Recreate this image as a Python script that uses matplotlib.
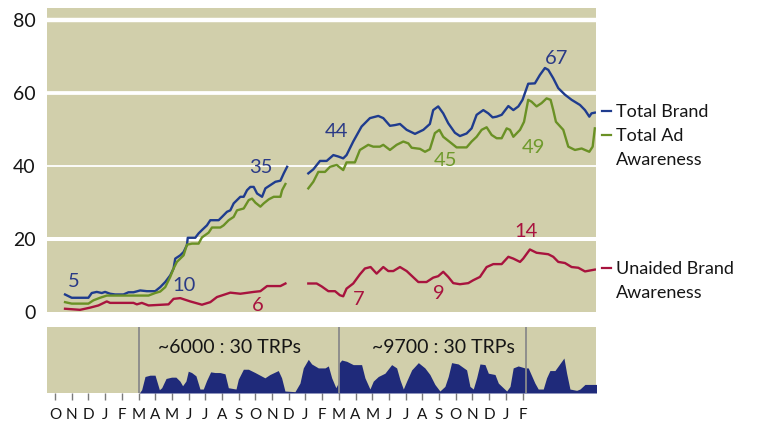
import matplotlib
matplotlib.use("Agg")
import matplotlib.pyplot as plt
import matplotlib.transforms as mtransforms

plt.rcParams['font.family'] = ['Lato', 'DejaVu Sans']

# ---------------- data ----------------
months = ["O", "N", "D", "J", "F", "M", "A", "M", "J", "J", "A", "S", "O", "N",
          "D", "J", "F", "M", "A", "M", "J", "J", "A", "S", "O", "N", "D", "J", "F"]

brand_x1 = [0.6, 1.0, 2.0, 2.2, 2.5, 2.8, 3.0, 3.3, 3.6, 4.1, 4.4, 4.7, 5.1, 5.5, 6.0, 6.3,
            6.6, 6.9, 7.1, 7.2, 7.5, 7.7, 7.9, 7.95, 8.4, 8.6, 8.8, 9.1, 9.3, 9.8, 10.0, 10.3,
            10.5, 10.7, 10.9, 11.1, 11.3, 11.5, 11.7, 11.9, 12.1, 12.4, 12.6, 12.9, 13.2,
            13.5, 13.7, 13.9]
brand_y1 = [4.9, 4.0, 4.0, 5.3, 5.6, 5.3, 5.6, 5.1, 4.9, 4.9, 5.5, 5.5, 6.0, 5.8, 5.8, 6.9,
            8.3, 10.1, 12.0, 14.7, 15.6, 16.5, 18.4, 20.4, 20.4, 21.6, 22.5, 23.8, 25.2, 25.2,
            26.1, 27.5, 27.9, 29.8, 30.7, 31.6, 31.6, 33.4, 34.3, 34.3, 32.5, 31.6, 33.9,
            34.8, 35.7, 36.0, 38.0, 39.8]
brand_x2 = [15.17, 15.47, 15.87, 16.27, 16.67, 16.97, 17.26, 17.46, 17.86, 18.36, 18.86,
            19.36, 19.66, 20.06, 20.36, 20.66, 21.06, 21.56, 22.06, 22.45, 22.65, 22.95,
            23.25, 23.55, 23.95, 24.25, 24.65, 24.95, 25.25, 25.65, 25.95, 26.21, 26.45,
            26.75, 27.15, 27.45, 27.75, 28.0, 28.34, 28.74, 29.04, 29.34, 29.54, 29.84,
            30.14, 30.54, 30.94, 31.44, 31.74, 32.0, 32.13, 32.33]
brand_y2 = [38.0, 39.1, 41.4, 41.4, 43.0, 42.6, 42.1, 43.0, 46.7, 50.8, 53.1, 53.7, 53.1,
            51.0, 51.2, 51.5, 49.9, 48.8, 49.9, 51.5, 55.3, 56.3, 54.4, 51.7, 49.1, 48.2,
            48.9, 50.3, 54.0, 55.3, 54.4, 53.3, 53.5, 54.0, 56.4, 55.3, 56.3, 58.1, 62.5,
            62.6, 64.9, 66.8, 66.3, 64.0, 61.3, 59.5, 58.1, 56.7, 55.3, 53.5, 54.4, 54.6]

ad_x1 = [0.6, 1.0, 2.0, 2.3, 2.7, 3.1, 3.9, 5.6, 6.0, 6.3, 6.6, 6.9, 7.1, 7.3, 7.7, 7.9,
         8.2, 8.6, 8.8, 9.2, 9.4, 9.9, 10.1, 10.4, 10.7, 10.9, 11.3, 11.6, 11.8, 12.0, 12.3,
         12.5, 12.8, 13.1, 13.5, 13.6, 13.8]
ad_y1 = [2.8, 2.4, 2.4, 3.3, 4.0, 4.6, 4.6, 4.6, 5.3, 5.7, 6.9, 9.7, 12.0, 13.8, 15.6, 18.5,
         18.8, 18.8, 20.5, 21.8, 23.2, 23.2, 23.8, 25.2, 26.1, 27.9, 28.4, 30.7, 31.1, 30.0,
         28.9, 29.8, 30.9, 31.6, 31.6, 33.4, 35.1]
ad_x2 = [15.17, 15.47, 15.77, 16.17, 16.47, 16.87, 17.26, 17.46, 17.96, 18.26, 18.76, 19.06,
         19.46, 19.66, 20.06, 20.46, 20.86, 21.16, 21.36, 21.86, 22.16, 22.45, 22.75, 23.02,
         23.25, 23.75, 24.05, 24.65, 24.95, 25.25, 25.55, 25.85, 26.15, 26.45, 26.75, 27.05,
         27.25, 27.45, 27.85, 28.09, 28.34, 28.54, 28.84, 29.14, 29.44, 29.68, 29.84, 30.0,
         30.44, 30.74, 31.14, 31.54, 31.74, 32.0, 32.2, 32.33]
ad_y2 = [33.9, 35.7, 38.4, 38.4, 39.8, 40.3, 38.9, 41.0, 41.0, 44.4, 45.8, 45.3, 45.3, 45.8,
         44.4, 45.8, 46.7, 46.2, 45.0, 44.7, 43.9, 44.6, 49.0, 49.9, 48.0, 46.2, 45.1, 45.1,
         46.7, 48.0, 49.9, 50.6, 48.5, 47.6, 47.6, 50.3, 49.9, 48.0, 49.9, 52.1, 58.1, 57.6,
         56.3, 57.2, 58.5, 58.1, 55.3, 52.1, 49.9, 45.3, 44.4, 44.8, 44.4, 43.9, 45.3, 50.3]

unaided_x1 = [0.6, 1.5, 2.1, 2.6, 3.1, 3.3, 4.7, 4.9, 5.2, 5.6, 6.8, 7.1, 7.5, 8.1, 8.8, 9.3,
              9.7, 10.5, 11.1, 11.9, 12.3, 12.7, 13.5, 13.8]
unaided_y1 = [1.0, 0.7, 1.3, 1.9, 3.0, 2.6, 2.6, 2.2, 2.6, 1.9, 2.2, 3.7, 3.9, 3.0, 2.1, 2.8,
              4.2, 5.4, 5.1, 5.6, 5.8, 7.2, 7.2, 7.9]
unaided_x2 = [15.17, 15.67, 15.97, 16.37, 16.77, 17.06, 17.26, 17.46, 17.86, 18.26, 18.56,
              18.9, 19.26, 19.66, 19.96, 20.26, 20.66, 21.06, 21.76, 22.25, 22.65, 22.95,
              23.25, 23.55, 23.85, 24.25, 24.75, 25.05, 25.45, 25.85, 26.25, 26.75, 27.15,
              27.45, 27.85, 28.04, 28.44, 28.84, 29.54, 29.84, 30.14, 30.54, 30.94, 31.34,
              31.74, 32.33]
unaided_y2 = [7.9, 7.9, 7.1, 5.8, 5.8, 4.7, 4.4, 6.5, 7.9, 10.4, 12.0, 12.4, 10.6, 12.4, 11.3,
              11.3, 12.4, 11.3, 8.3, 8.3, 9.5, 9.9, 11.1, 9.7, 8.0, 7.7, 8.0, 8.8, 9.7, 12.4,
              13.2, 13.2, 15.2, 14.7, 13.8, 14.7, 17.2, 16.3, 15.9, 15.2, 13.8, 13.5, 12.4,
              12.2, 11.2, 11.7]

trp_x = [5.05, 5.19, 5.39, 5.69, 5.99, 6.25, 6.39, 6.65, 6.98, 7.24, 7.48, 7.64, 7.84, 7.98,
         8.18, 8.44, 8.68, 8.88, 9.08, 9.32, 9.58, 9.88, 10.18, 10.38, 10.84, 10.98, 11.28,
         11.58, 11.98, 12.57, 12.87, 13.37, 13.57, 13.77, 14.37, 14.67, 14.87, 15.17, 15.37,
         15.77, 16.17, 16.37, 16.57, 16.82, 16.96, 17.0, 17.17, 17.47, 17.86, 18.36, 18.56,
         18.86, 19.06, 19.36, 19.76, 20.16, 20.46, 20.66, 20.86, 21.06, 21.36, 21.76, 22.15,
         22.45, 22.75, 23.05, 23.35, 23.55, 23.75, 24.15, 24.65, 24.85, 25.05, 25.25, 25.45,
         25.75, 25.95, 26.35, 26.55, 27.05, 27.25, 27.44, 27.74, 28.14, 28.34, 28.74, 28.94,
         29.24, 29.44, 29.64, 29.94, 30.14, 30.48, 30.64, 30.84, 31.24, 31.44, 31.74, 32.45]
trp_h = [0, 5, 25, 27, 27, 5, 8, 22, 24, 24, 18, 11, 18, 33, 31, 26, 6, 6, 19, 32, 31, 31, 29,
         8, 6, 21, 36, 36, 31, 23, 28, 34, 23, 3, 2, 15, 38, 51, 44, 38, 38, 41, 23, 8, 15, 45,
         50, 48, 43, 43, 23, 6, 18, 25, 30, 43, 38, 20, 6, 18, 35, 46, 38, 28, 13, 3, 10, 25,
         46, 44, 35, 10, 6, 23, 44, 43, 30, 28, 15, 3, 10, 38, 41, 38, 38, 15, 6, 6, 23, 34,
         34, 41, 53, 30, 6, 4, 6, 13, 13]

flight_dividers = [5.0, 17.0, 28.2]
flight_labels = ["~6000 : 30 TRPs", "~9700 : 30 TRPs"]
flight_label_x = [6.17, 18.98]

yticks = [0, 20, 40, 60, 80]

value_labels = ["5", "10", "35", "44", "67", "45", "49", "6", "7", "9", "14"]
value_label_x = [1.12, 7.7, 12.32, 16.83, 30.04, 23.37, 28.68, 12.14, 18.16, 23.01, 28.24]
value_label_y = [8.4, 7.3, 39.7, 49.4, 69.5, 41.5, 45.2, 2.0, 3.4, 5.1, 22.1]
value_label_series = ["brand", "brand", "brand", "brand", "brand", "ad", "ad",
                      "unaided", "unaided", "unaided", "unaided"]

legend_lines = [["Total Brand"], ["Total Ad", "Awareness"], ["Unaided Brand", "Awareness"]]
legend_series = ["brand", "ad", "unaided"]
legend_y = [55.1, 48.5, 12.2]

# ---------------- style ----------------
BG = "#d1cfab"
colors = {"brand": "#1f3c8e", "ad": "#6a9125", "unaided": "#a8133e"}
text_colors = {"brand": "#2a3a86", "ad": "#6f9a2c", "unaided": "#a8133e"}
TRP_COLOR = "#1f2a7a"
TXT = "#151515"

W, H = 760, 426
fig = plt.figure(figsize=(W / 100, H / 100), dpi=100)

def rect(l, t, r, b):
    return [l / W, 1 - b / H, (r - l) / W, (b - t) / H]

ax = fig.add_axes(rect(47, 8, 596, 312.4))
ax.set_facecolor(BG)
ax.set_xlim(-0.48, 32.4)
ax.set_ylim(0, 83.2)
for s in ax.spines.values():
    s.set_visible(False)

grid_widths = {20: 2.9, 40: 1.3, 60: 2.7, 80: 3.2}
for v, w in grid_widths.items():
    ax.axhline(v, color="white", lw=w, zorder=1)

ax.set_yticks(yticks)
ax.set_yticklabels([str(v) for v in yticks], fontsize=14, color=TXT)
ax.tick_params(axis="y", length=0, pad=8)
ax.set_xticks([])

lw = 1.7
for xs, ys, s in [(brand_x1, brand_y1, "brand"), (brand_x2, brand_y2, "brand"),
                  (ad_x1, ad_y1, "ad"), (ad_x2, ad_y2, "ad"),
                  (unaided_x1, unaided_y1, "unaided"), (unaided_x2, unaided_y2, "unaided")]:
    ax.plot(xs, ys, color=colors[s], lw=lw, zorder=3, solid_joinstyle="round")

for t, x, y, s in zip(value_labels, value_label_x, value_label_y, value_label_series):
    ax.text(x, y, t, color=text_colors[s], fontsize=14.5, ha="center", va="center", zorder=4)

trans = mtransforms.blended_transform_factory(ax.transAxes, ax.transData)
line_step_px = 23.5
for lines, s, y in zip(legend_lines, legend_series, legend_y):
    ax.plot([1.011, 1.027], [y, y], color=colors[s], lw=1.6, transform=trans, clip_on=False)
    for i, t in enumerate(lines):
        off = mtransforms.offset_copy(trans, fig=fig, x=0, y=-i * line_step_px, units="dots")
        ax.text(1.036, y, t, transform=off, fontsize=13, color=TXT, ha="left",
                va="center_baseline")

# ---------------- bottom TRP panel ----------------
bx = fig.add_axes(rect(47, 327, 596, 393))
bx.set_facecolor(BG)
bx.set_xlim(-0.48, 32.4)
bx.set_ylim(0, 100)
for s in bx.spines.values():
    s.set_visible(False)
bx.fill_between(trp_x, trp_h, 0, color=TRP_COLOR, lw=0, zorder=2)
for d in flight_dividers:
    bx.axvline(d, color="#8a8a8a", lw=1.3, zorder=3)
for t, x in zip(flight_labels, flight_label_x):
    bx.text(x, 71, t, fontsize=14, color=TXT, ha="left", va="center_baseline", zorder=4)
bx.set_yticks([])
bx.set_xticks(range(len(months)))
bx.set_xticklabels(months, fontsize=11, color=TXT)
bx.tick_params(axis="x", length=5, width=1, color="#7a7a7a", pad=6, direction="out")

fig.savefig("out.png", dpi=100)
